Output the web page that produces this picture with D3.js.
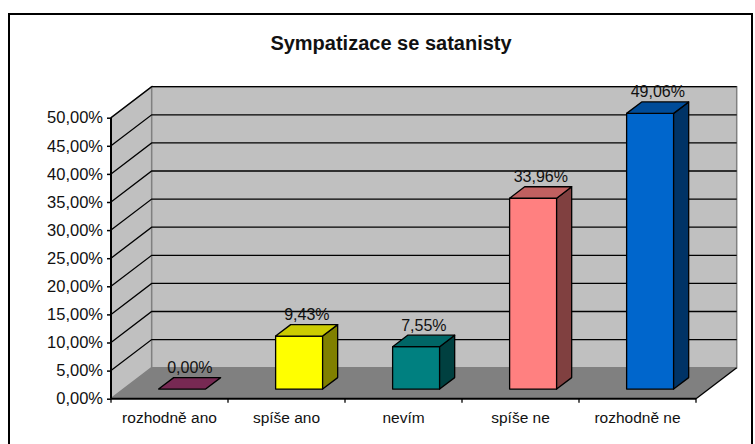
<!DOCTYPE html>
<html>
<head>
<meta charset="utf-8">
<script src="https://cdn.jsdelivr.net/npm/d3@7"></script>
<style>
  html, body { margin: 0; padding: 0; background: #fff; overflow: hidden; }
  text { font-family: "Liberation Sans", Arial, sans-serif; fill: #111; }
</style>
</head>
<body>
<svg id="chart" width="755" height="444"></svg>
<script>
// Values
const categories = ["rozhodně ano", "spíše ano", "nevím", "spíše ne", "rozhodně ne"];
const percents = [0, 9.43, 7.55, 33.96, 49.06];
const yTicks = [0, 5, 10, 15, 20, 25, 30, 35, 40, 45, 50];
const frontColors = ["#772953", "#ffff00", "#008080", "#ff8080", "#0066cc"];
const topColors = ["#772953", "#cccc00", "#006666", "#c06060", "#004c99"];
const sideColors = ["#772953", "#808000", "#004040", "#804040", "#003366"];

const svg = d3.select("#chart");
const fmt = v => v.toFixed(2).replace(".", ",") + "%";

const x = d3.scaleBand().domain(categories).range([111, 696]);
const y = d3.scaleLinear().domain([0, 50]).range([398.7, 117.7]);

// Depth offset of the 3D box, back wall relative to the front plane
const depthX = 40.7;
const depthY = -31;
const barFront = 0.31;
const barBack = 0.68;
const barWidth = 47;

// Project a point (px along x axis, value, depth 0..1) on the oblique view
const pt = (px, v, d) => [px + depthX * d, y(v) + depthY * d];
const poly = pts => pts.map(p => p.join(",")).join(" ");

// Chart frame, its bottom edge is cut off by the picture
svg.append("path")
    .attr("d", "M9,444V14H752V444")
    .attr("fill", "none")
    .attr("stroke", "#000")
    .attr("stroke-width", 2);

svg.append("text")
    .attr("x", 391)
    .attr("y", 50)
    .attr("text-anchor", "middle")
    .attr("font-weight", "bold")
    .attr("font-size", 20)
    .text("Sympatizace se satanisty");

const xl = x.range()[0], xr = x.range()[1];

// Side wall, back wall, floor
svg.append("polygon")
    .attr("points", poly([pt(xl, 0, 0), pt(xl, 50, 0), pt(xl, 50, 1), pt(xl, 0, 1)]))
    .attr("fill", "#c0c0c0").attr("stroke", "#808080").attr("stroke-width", 1.5);
svg.append("polygon")
    .attr("points", poly([pt(xl, 0, 1), pt(xl, 50, 1), pt(xr, 50, 1), pt(xr, 0, 1)]))
    .attr("fill", "#c0c0c0").attr("stroke", "#808080").attr("stroke-width", 1.5);
svg.append("polygon")
    .attr("points", poly([pt(xl, 0, 0), pt(xl, 0, 1), pt(xr, 0, 1), pt(xr, 0, 0)]))
    .attr("fill", "#808080");

// Gridlines run over the side wall and the back wall
svg.append("g").selectAll("polyline")
    .data(yTicks.filter(t => t > 0))
    .join("polyline")
    .attr("points", t => poly([pt(xl, t, 0), pt(xl, t, 1), pt(xr, t, 1)]))
    .attr("fill", "none")
    .attr("stroke", "#000")
    .attr("stroke-width", 1.3);

// Floor edge on the right
svg.append("line")
    .attr("x1", pt(xr, 0, 0)[0]).attr("y1", pt(xr, 0, 0)[1])
    .attr("x2", pt(xr, 0, 1)[0]).attr("y2", pt(xr, 0, 1)[1])
    .attr("stroke", "#000").attr("stroke-width", 1.3);

// Axes
const yAxis = d3.axisLeft(y).tickValues(yTicks).tickFormat(fmt).tickSize(4).tickPadding(4);
const gy = svg.append("g").attr("transform", `translate(${xl},0)`).call(yAxis);
gy.selectAll("text").attr("font-size", 16.5);

const xAxis = d3.axisBottom(x).tickSize(0).tickPadding(13);
const gx = svg.append("g").attr("transform", `translate(0,${y(0)})`).call(xAxis);
gx.selectAll("text").attr("font-size", 15.5);
// Tick marks sit between the categories
gx.selectAll(".edge")
    .data(d3.range(categories.length + 1))
    .join("line")
    .attr("class", "edge")
    .attr("x1", i => xl + i * x.step())
    .attr("x2", i => xl + i * x.step())
    .attr("y2", 4)
    .attr("stroke", "#000")
    .attr("stroke-width", 1.3);
gy.select(".domain").attr("stroke-width", 2).attr("d", `M0,${y(50)}V${y(0)}`);
gx.select(".domain").attr("stroke-width", 2).attr("d", `M${xl},0H${xr}`);
gy.selectAll(".tick line").attr("stroke-width", 1.5);

// Bars
const bars = svg.append("g").selectAll("g")
    .data(categories)
    .join("g");

bars.each(function (c, i) {
    const g = d3.select(this);
    const v = percents[i];
    const x0 = x(c) + (x.step() - barWidth) / 2;
    const x1 = x0 + barWidth;
    const face = (pts, fill) => g.append("polygon")
        .attr("points", poly(pts))
        .attr("fill", fill)
        .attr("stroke", "#000")
        .attr("stroke-width", 1.3)
        .attr("stroke-linejoin", "round");
    if (v > 0) {
        face([pt(x0, 0, barFront), pt(x0, v, barFront), pt(x1, v, barFront), pt(x1, 0, barFront)], frontColors[i]);
        face([pt(x1, 0, barFront), pt(x1, v, barFront), pt(x1, v, barBack), pt(x1, 0, barBack)], sideColors[i]);
    }
    face([pt(x0, v, barFront), pt(x0, v, barBack), pt(x1, v, barBack), pt(x1, v, barFront)], topColors[i]);
});

// Data labels
svg.append("g").selectAll("text")
    .data(categories)
    .join("text")
    .attr("x", c => pt(x(c) + x.step() / 2, 0, 0.5)[0])
    .attr("y", (c, i) => pt(0, percents[i], 0.5)[1] - 10)
    .attr("text-anchor", "middle")
    .attr("font-size", 16)
    .text((c, i) => fmt(percents[i]));
</script>
</body>
</html>
